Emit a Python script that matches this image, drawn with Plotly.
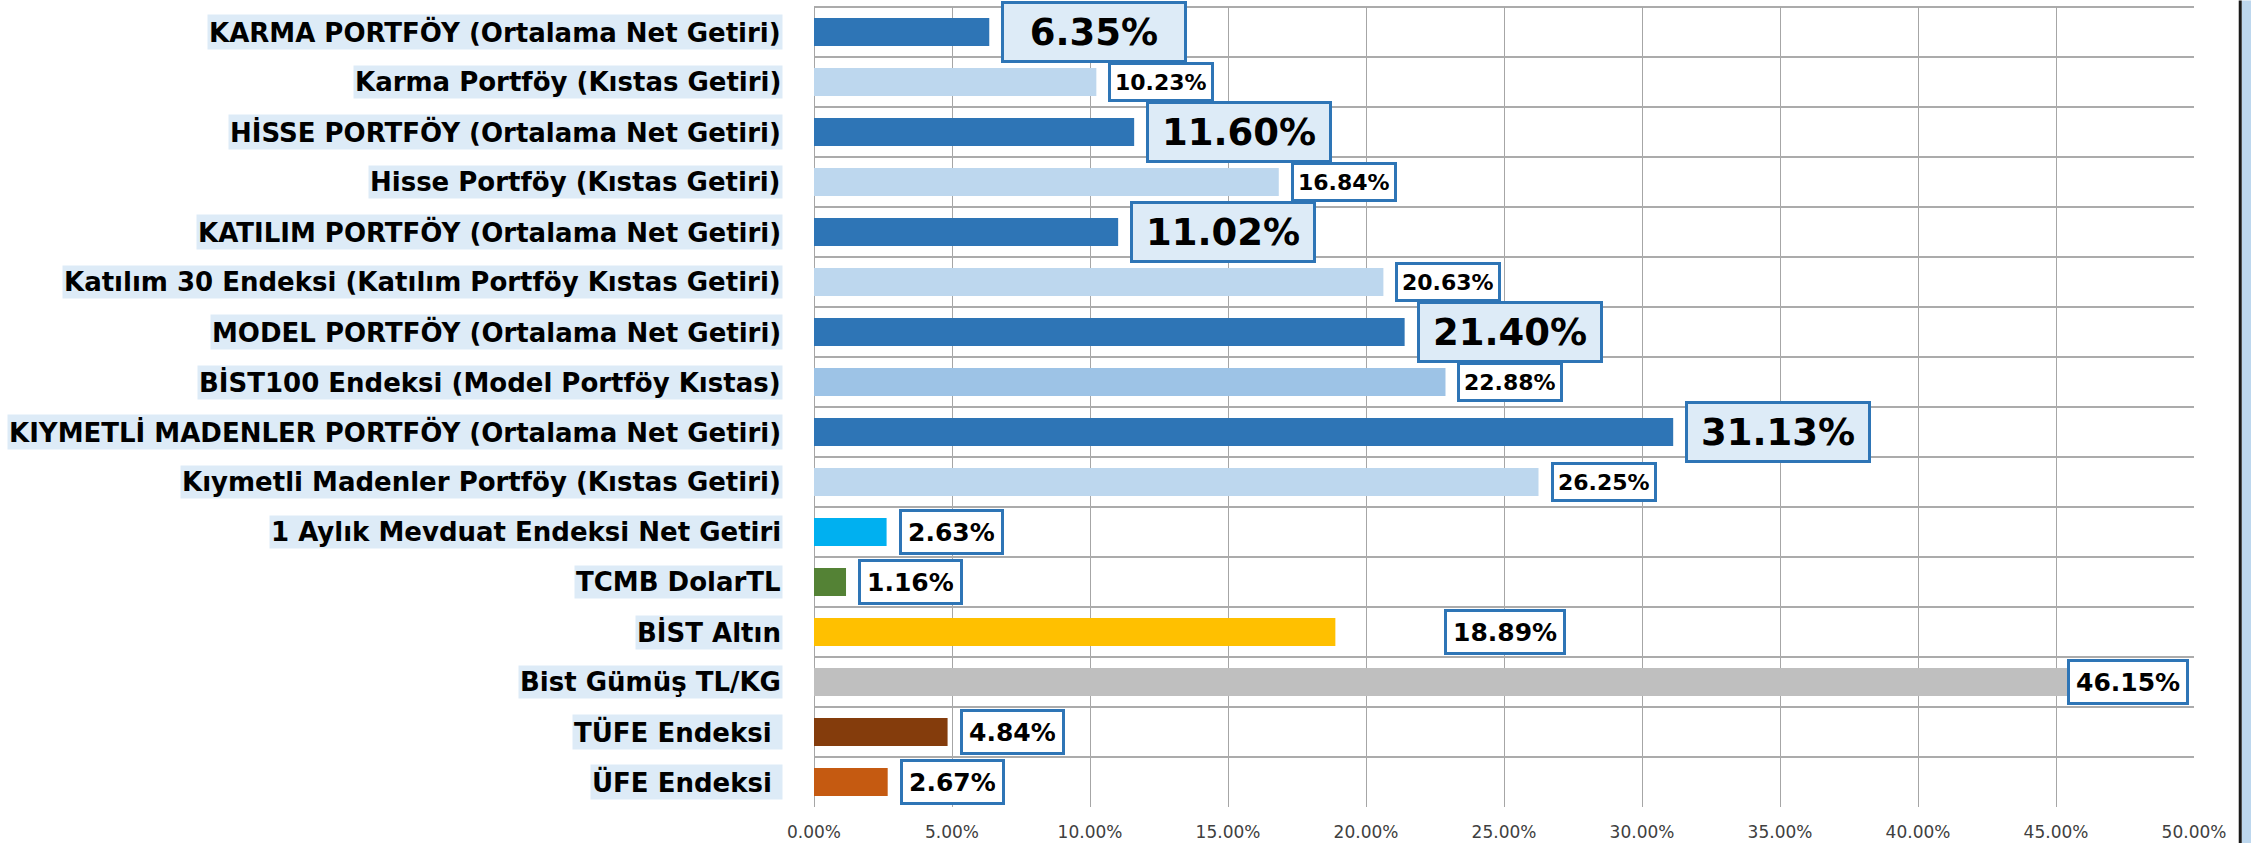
import plotly.graph_objects as go

# Category labels (top to bottom) and returns (fraction)
categories = [
    "KARMA PORTFÖY (Ortalama Net Getiri)",
    "Karma Portföy (Kıstas Getiri)",
    "HİSSE PORTFÖY (Ortalama Net Getiri)",
    "Hisse Portföy (Kıstas Getiri)",
    "KATILIM PORTFÖY (Ortalama Net Getiri)",
    "Katılım 30 Endeksi (Katılım Portföy Kıstas Getiri)",
    "MODEL PORTFÖY (Ortalama Net Getiri)",
    "BİST100 Endeksi (Model Portföy Kıstas)",
    "KIYMETLİ MADENLER PORTFÖY (Ortalama Net Getiri)",
    "Kıymetli Madenler Portföy (Kıstas Getiri)",
    "1 Aylık Mevduat Endeksi Net Getiri",
    "TCMB DolarTL",
    "BİST Altın",
    "Bist Gümüş TL/KG",
    "TÜFE Endeksi ",
    "ÜFE Endeksi ",
]
returns = [0.0635, 0.1023, 0.1160, 0.1684, 0.1102, 0.2063, 0.2140, 0.2288,
           0.3113, 0.2625, 0.0263, 0.0116, 0.1889, 0.4615, 0.0484, 0.0267]
# label style group: "fund" = portfolio net return, "bench" = benchmark, "other"
label_group = ["fund", "bench", "fund", "bench", "fund", "bench", "fund", "bench",
               "fund", "bench", "other", "other", "other", "other", "other", "other"]
x_ticks = [0, 0.05, 0.10, 0.15, 0.20, 0.25, 0.30, 0.35, 0.40, 0.45, 0.50]

bar_colors = ["#2E75B6", "#BDD7EE", "#2E75B6", "#BDD7EE", "#2E75B6", "#BDD7EE",
              "#2E75B6", "#9DC3E6", "#2E75B6", "#BDD7EE", "#00B0F0", "#548235",
              "#FFC000", "#BFBFBF", "#843C0C", "#C55A11"]

FONT = "DejaVu Sans"
BOX_BORDER = "#2E75B6"

fig = go.Figure()
fig.add_trace(go.Bar(
    x=returns,
    y=categories,
    orientation="h",
    width=0.56,
    marker=dict(color=bar_colors, line=dict(width=0)),
    hovertemplate="%{y}: %{x:.2%}<extra></extra>",
))

annotations = []

# Category labels with light blue background
for cat in categories:
    annotations.append(dict(
        x=0, xref="paper", y=cat, yref="y",
        xanchor="right", yanchor="middle", xshift=-31,
        text=cat.replace(" ", "\u00a0") if cat.endswith(" ") else cat,
        showarrow=False,
        bgcolor="#DDEBF7",
        borderpad=1,
        font=dict(family=FONT, size=26, color="#000000", weight="bold"),
    ))

# Value labels in framed boxes
for cat, val, grp in zip(categories, returns, label_group):
    style = dict(
        x=val, xref="x", y=cat, yref="y",
        xanchor="left", yanchor="middle", xshift=12,
        text=f"{val * 100:.2f}%",
        showarrow=False,
        bordercolor=BOX_BORDER, borderwidth=3,
    )
    if grp == "fund":
        style.update(bgcolor="#DDEBF7", borderpad=6, width=168, height=44,
                     font=dict(family=FONT, size=37, color="#000000", weight="bold"))
    elif grp == "bench":
        style.update(bgcolor="#FFFFFF", borderpad=4, height=26,
                     font=dict(family=FONT, size=22, color="#000000", weight="bold"))
    else:
        style.update(bgcolor="#FFFFFF", borderpad=6, height=28,
                     font=dict(family=FONT, size=25, color="#000000", weight="bold"))
    if cat == "BİST Altın":
        style["xshift"] = 109
    if cat == "Bist Gümüş TL/KG":
        style.update(x=1, xref="paper", xanchor="right", xshift=-5)
    annotations.append(style)

fig.update_layout(
    width=2251,
    height=843,
    margin=dict(l=814, r=57, t=7, b=36, autoexpand=False),
    paper_bgcolor="#FFFFFF",
    plot_bgcolor="#FFFFFF",
    showlegend=False,
    annotations=annotations,
    xaxis=dict(
        range=[0, 0.5],
        tickvals=x_ticks,
        tickformat=".2%",
        showgrid=True,
        gridcolor="#A6A6A6",
        gridwidth=1,
        zeroline=True,
        zerolinecolor="#A6A6A6",
        zerolinewidth=1,
        showline=False,
        ticks="",
        ticklabelstandoff=13,
        automargin=False,
        tickfont=dict(family=FONT, size=17, color="#404040"),
    ),
    yaxis=dict(
        type="category",
        categoryorder="array",
        categoryarray=categories,
        range=[len(categories) - 0.5, -0.5],
        tickson="boundaries",
        showgrid=True,
        gridcolor="#ABABAB",
        gridwidth=2,
        showticklabels=False,
        ticks="",
        showline=False,
        zeroline=False,
        automargin=False,
    ),
    shapes=[
        # window edge strip on the right of the screenshot
        dict(type="rect", xref="paper", yref="paper",
             x0=1.0346, x1=1.05, y0=-0.045, y1=1.008,
             fillcolor="#BDD7EE", line=dict(width=0), layer="above"),
        dict(type="line", xref="paper", yref="paper",
             x0=1.0335, x1=1.0335, y0=-0.045, y1=1.008,
             line=dict(color="#1A1A1A", width=3), layer="above"),
        # top border of the plot area
        dict(type="line", xref="paper", yref="paper",
             x0=0, x1=1, y0=1, y1=1,
             line=dict(color="#ABABAB", width=2), layer="below"),
    ],
)

fig.write_html("out.html", config={"displayModeBar": False},
               post_script="document.body.style.margin='0';")
